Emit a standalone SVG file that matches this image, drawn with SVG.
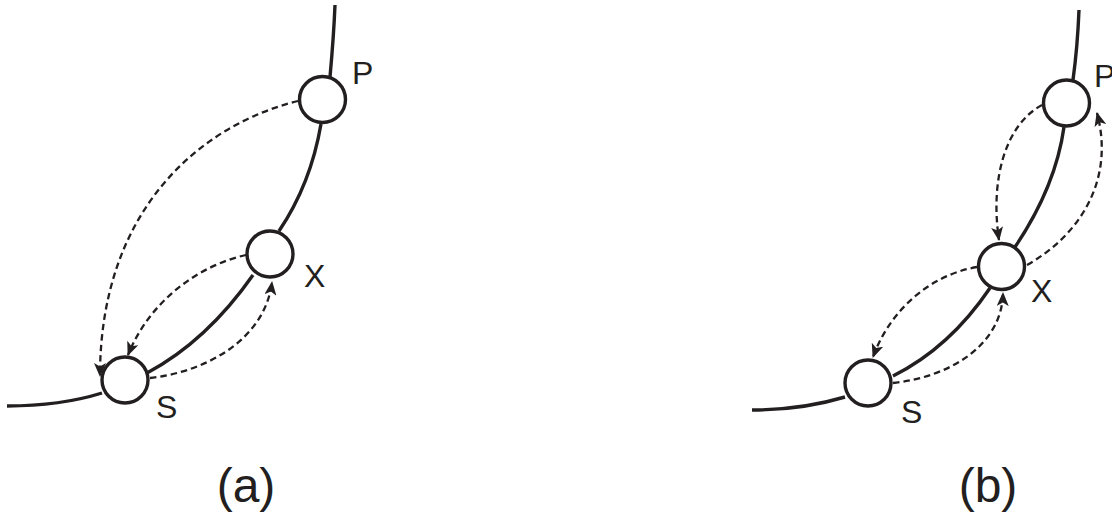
<svg xmlns="http://www.w3.org/2000/svg" width="1112" height="515" viewBox="0 0 1112 515">
<defs>
<style>
.main{fill:none;stroke:#231f20;stroke-width:3.4}
.node{fill:#fff;stroke:#231f20;stroke-width:3.4}
.dash{fill:none;stroke:#231f20;stroke-width:2.3;stroke-dasharray:6.5,4;marker-end:url(#ah)}
.lbl{font-family:"Liberation Sans",Arial,sans-serif;font-size:32px;fill:#231f20}
.cap{font-family:"Liberation Sans",Arial,sans-serif;font-size:48px;fill:#231f20;text-anchor:middle}
</style>
<marker id="ah" viewBox="0 0 14 12" refX="13" refY="6" markerWidth="14" markerHeight="12" markerUnits="userSpaceOnUse" orient="auto">
<path d="M0,0 L14,6 L0,12 L3.5,6 z" fill="#231f20"/>
</marker>
</defs>
<g id="connectors">
<path class="main" d="M335,5 C334,30 332,55 330,77"/>
<path class="main" d="M321,124 C314,165 300,200 279,231"/>
<path class="main" d="M253,275 C225,315 190,350 147,373"/>
<path class="main" d="M102,393 C70,403 40,406 7,406"/>
<path class="dash" d="M298,101 C200,125 100,210 100,376"/>
<path class="dash" d="M246,255 C200,265 150,300 128,355"/>
<path class="dash" d="M150,378 C205,372 265,340 272,282"/>
<path class="main" d="M1079,10 C1078,35 1076,58 1073,80"/>
<path class="main" d="M1064,127 C1058,170 1040,210 1015,247"/>
<path class="main" d="M990,288 C965,325 935,355 893,376"/>
<path class="main" d="M845,397 C815,406 785,410 752,410"/>
<path class="dash" d="M1042,105 C1005,125 990,180 999,240"/>
<path class="dash" d="M1027,265 C1080,235 1115,180 1097,113"/>
<path class="dash" d="M977,267 C930,275 890,310 873,357"/>
<path class="dash" d="M893,383 C950,377 1002,345 1003,293"/>
</g>
<g id="a-P"><circle class="node" cx="322.5" cy="99.5" r="23"/><text class="lbl" x="352" y="84">P</text></g>
<g id="a-X"><circle class="node" cx="270" cy="254" r="23"/><text class="lbl" x="304" y="287">X</text></g>
<g id="a-S"><circle class="node" cx="125" cy="380" r="23"/><text class="lbl" x="156" y="418">S</text></g>
<g id="b-P"><circle class="node" cx="1066.5" cy="103" r="23"/><text class="lbl" x="1094" y="87">P</text></g>
<g id="b-X"><circle class="node" cx="1001.5" cy="266.5" r="23"/><text class="lbl" x="1031" y="302">X</text></g>
<g id="b-S"><circle class="node" cx="868" cy="383" r="23"/><text class="lbl" x="901" y="423">S</text></g>
<g id="captions">
<text class="cap" x="246" y="502">(a)</text>
<text class="cap" x="988" y="502">(b)</text>
</g>
</svg>
